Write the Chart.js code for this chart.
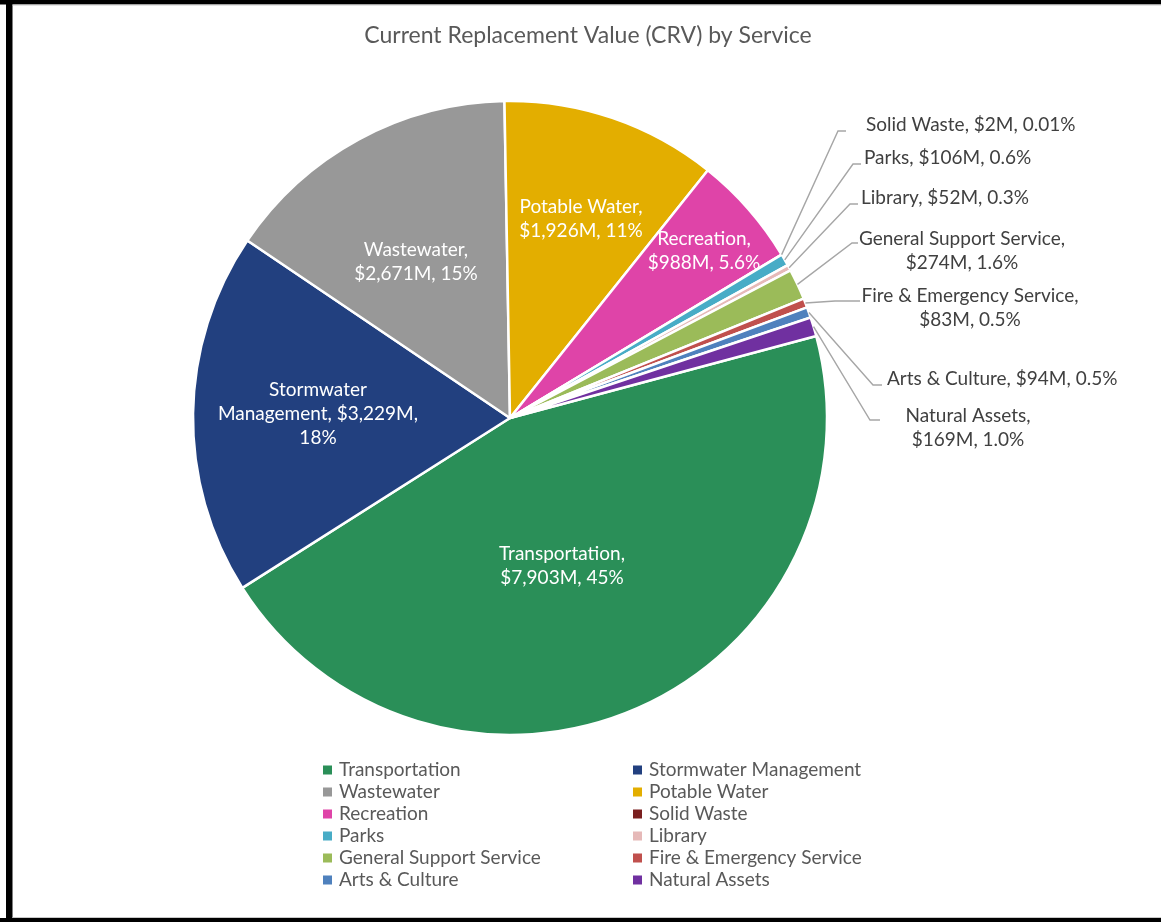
<!DOCTYPE html>
<html>
<head>
<meta charset="utf-8">
<title>Current Replacement Value (CRV) by Service</title>
<script src="https://cdn.jsdelivr.net/npm/chart.js@4"></script>
<style>
  html, body { margin: 0; padding: 0; background: #fff; }
  canvas { display: block; }
</style>
</head>
<body>
<canvas id="crv" width="1161" height="922"></canvas>
<script>
// service names, replacement value in $M, decimals shown on the percentage
const labels = [
  'Transportation', 'Stormwater Management', 'Wastewater', 'Potable Water',
  'Recreation', 'Solid Waste', 'Parks', 'Library', 'General Support Service',
  'Fire & Emergency Service', 'Arts & Culture', 'Natural Assets'
];
const values = [7903, 3229, 2671, 1926, 988, 2, 106, 52, 274, 83, 94, 169];
const pctDecimals = [0, 0, 0, 0, 1, 2, 1, 1, 1, 1, 1, 1];

const colors = [
  '#2a8f58', '#22407f', '#989898', '#e3ae00', '#df44a8', '#7a1f1f',
  '#48acc6', '#e6b9b8', '#9bbb59', '#c0504d', '#4f81bd', '#7030a0'
];

const FONT = 'Lato, "Open Sans", sans-serif';
const total = values.reduce((a, b) => a + b, 0);

function money(v) {
  return '$' + v.toLocaleString('en-US') + 'M';
}
function pct(i) {
  return (values[i] / total * 100).toFixed(pctDecimals[i]) + '%';
}

// where each data label goes; outside labels get a leader line with an elbow
const twoLines = (n, v, p) => [n + ',', v + ', ' + p];
const oneLine = (n, v, p) => [n + ', ' + v + ', ' + p];
const labelLayout = [
  { inside: true, x: 562, y: 554, lines: twoLines },
  { inside: true, x: 318, y: 390, lines: (n, v, p) => ['Stormwater', 'Management, ' + v + ',', p] },
  { inside: true, x: 416, y: 250, lines: twoLines },
  { inside: true, x: 581, y: 207, lines: twoLines },
  { inside: true, x: 704, y: 239, lines: twoLines },
  { x: 866, y: 125, align: 'left', elbow: [838, 131], end: 846, lines: oneLine },
  { x: 864, y: 158, align: 'left', elbow: [853, 164], end: 861, lines: oneLine },
  { x: 861, y: 198, align: 'left', elbow: [850, 204], end: 858, lines: oneLine },
  { x: 962, y: 239, elbow: [852, 243], end: 858, lines: twoLines },
  { x: 970, y: 296, elbow: [835, 301], end: 860, lines: twoLines },
  { x: 887, y: 379, align: 'left', elbow: [873, 385], end: 882, lines: oneLine },
  { x: 968, y: 416, elbow: [870, 420], end: 880, lines: twoLines }
];

const decorations = {
  id: 'decorations',
  afterDatasetsDraw(chart) {
    const ctx = chart.ctx;
    const arcs = chart.getDatasetMeta(0).data;
    ctx.save();
    ctx.font = '19px ' + FONT;
    ctx.textBaseline = 'middle';
    labelLayout.forEach((lay, i) => {
      const lines = lay.lines(labels[i], money(values[i]), pct(i));
      if (!lay.inside) {
        const arc = arcs[i];
        const mid = (arc.startAngle + arc.endAngle) / 2;
        ctx.strokeStyle = '#a6a6a6';
        ctx.lineWidth = 1.4;
        ctx.beginPath();
        ctx.moveTo(arc.x + Math.cos(mid) * arc.outerRadius, arc.y + Math.sin(mid) * arc.outerRadius);
        ctx.lineTo(lay.elbow[0], lay.elbow[1]);
        ctx.lineTo(lay.end, lay.elbow[1]);
        ctx.stroke();
      }
      ctx.fillStyle = lay.inside ? '#ffffff' : '#404040';
      ctx.textAlign = lay.align || 'center';
      lines.forEach((t, k) => ctx.fillText(t, lay.x, lay.y + k * 24));
    });
    ctx.restore();
  },
  afterDraw(chart) {
    const ctx = chart.ctx;
    ctx.save();
    // title
    ctx.fillStyle = '#595959';
    ctx.font = '23px ' + FONT;
    ctx.textAlign = 'center';
    ctx.textBaseline = 'middle';
    ctx.fillText('Current Replacement Value (CRV) by Service', 588, 36);

    // legend in two columns
    ctx.font = '19px ' + FONT;
    ctx.textAlign = 'left';
    const cols = [323, 633];
    const rowY = [770, 792, 814, 836, 858, 880];
    labels.forEach((name, i) => {
      const x = cols[i % 2];
      const y = rowY[Math.floor(i / 2)];
      ctx.fillStyle = colors[i];
      ctx.fillRect(x, y - 4.5, 9, 9);
      ctx.fillStyle = '#595959';
      ctx.fillText(name, x + 16, y);
    });

    // frame
    ctx.fillStyle = '#000';
    ctx.fillRect(0, 0, 1161, 4.5);
    ctx.fillRect(6, 0, 6.5, 922);
    ctx.fillRect(0, 918, 1161, 4);
    ctx.fillStyle = '#c8c8c8';
    ctx.fillRect(12.5, 4.5, 1149, 1);
    ctx.fillRect(12.5, 917, 1149, 1);
    ctx.restore();
  }
};

new Chart(document.getElementById('crv'), {
  type: 'pie',
  data: {
    labels: labels,
    datasets: [{
      data: values,
      backgroundColor: colors,
      borderColor: '#ffffff',
      borderWidth: 2.5
    }]
  },
  options: {
    responsive: false,
    animation: false,
    rotation: 75,
    radius: 317,
    layout: { padding: { left: 190, right: 331, top: 98, bottom: 184 } },
    plugins: {
      legend: { display: false },
      tooltip: { enabled: false }
    }
  },
  plugins: [decorations]
});
</script>
</body>
</html>
